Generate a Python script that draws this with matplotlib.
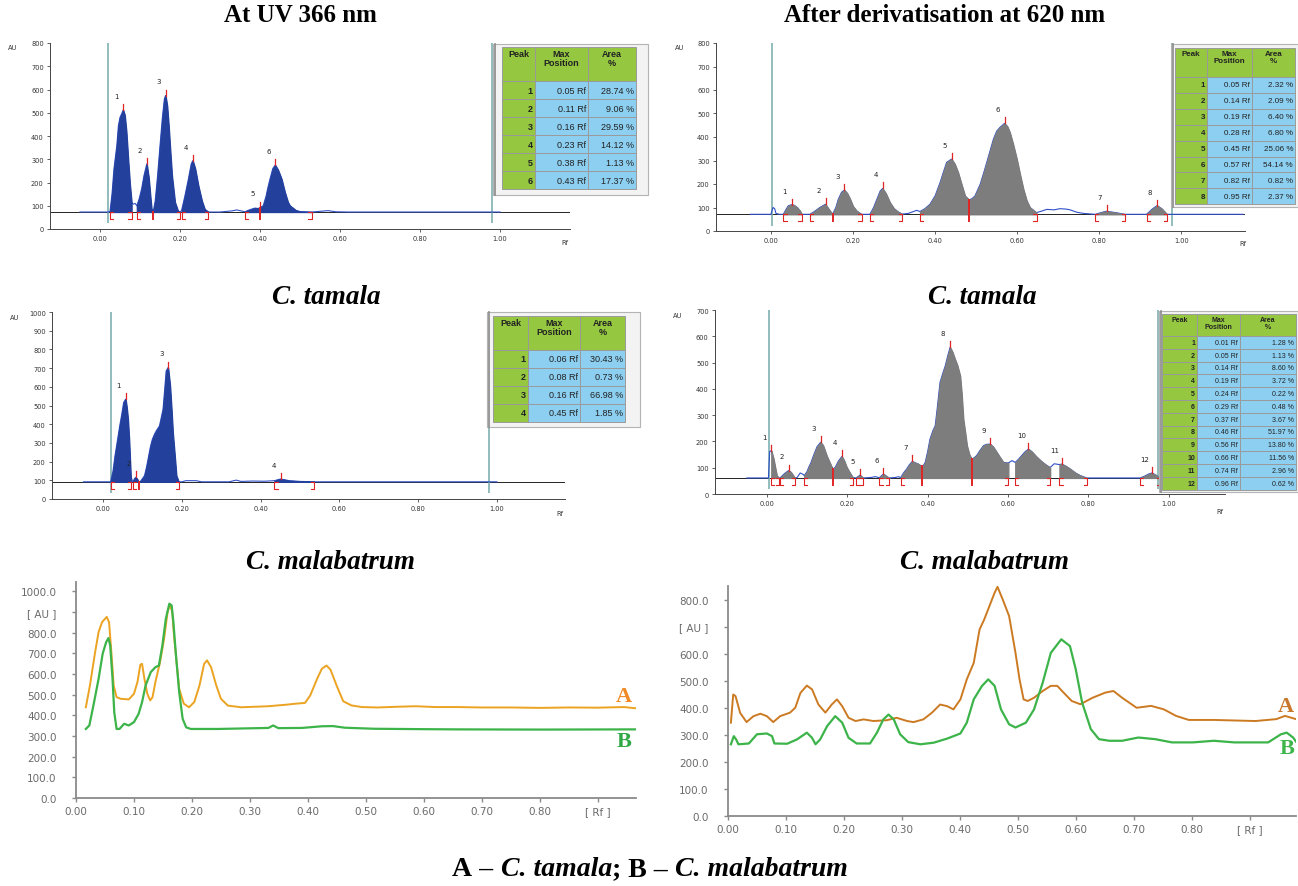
import numpy as np
import matplotlib.pyplot as plt
from matplotlib.patches import Rectangle

W, H = 1298, 887

# ---------------- data ----------------
# top-left: standard, UV 366 nm
std_uv_rf = [-0.05, 0.0, 0.02, 0.025, 0.03, 0.035, 0.042, 0.046, 0.05, 0.054, 0.058, 0.062, 0.066,
             0.071, 0.075, 0.079, 0.083, 0.088, 0.092, 0.098, 0.104, 0.11, 0.117, 0.122, 0.126, 0.129,
             0.133, 0.138, 0.144, 0.15, 0.156, 0.161, 0.164, 0.168, 0.172, 0.175, 0.18, 0.1875, 0.195,
             0.2, 0.204, 0.212, 0.221, 0.228, 0.232, 0.238, 0.246, 0.255, 0.262, 0.271, 0.3, 0.33,
             0.342, 0.3625, 0.37, 0.38, 0.3875, 0.395, 0.4, 0.408, 0.415, 0.42, 0.425, 0.432, 0.438,
             0.445, 0.454, 0.462, 0.47, 0.475, 0.49, 0.5, 0.529, 0.55, 0.57, 0.59, 0.62, 0.98, 1.0]
std_uv_au = [73, 73, 73, 75, 150, 260, 358, 444, 480, 495, 512, 490, 420,
             287, 190, 115, 107, 110, 100, 130, 172, 230, 280, 220, 140, 86,
             75, 120, 230, 358, 480, 560, 574, 530, 440, 358, 230, 115, 78,
             73, 80, 140, 215, 280, 294, 260, 186, 120, 85, 73, 73, 78,
             82, 74, 80, 86, 90, 88, 92, 100, 140, 180, 215, 260, 275,
             255, 215, 160, 115, 100, 80, 75, 73, 76, 79, 74, 73, 73, 73]
std_uv_base = 73
std_uv_win = [(0.025, 0.079), (0.092, 0.133), (0.133, 0.2), (0.204, 0.271), (0.3625, 0.4), (0.4, 0.529)]
std_uv_pos = ['0.05 Rf', '0.11 Rf', '0.16 Rf', '0.23 Rf', '0.38 Rf', '0.43 Rf']
std_uv_area = ['28.74 %', '9.06 %', '29.59 %', '14.12 %', '1.13 %', '17.37 %']

# top-right: standard after derivatisation, 620 nm
std_vis_rf = [-0.05, 0.0, 0.002, 0.005, 0.009, 0.012, 0.02, 0.03, 0.036, 0.042, 0.05, 0.056, 0.064,
              0.071, 0.075, 0.085, 0.095, 0.105, 0.119, 0.133, 0.14, 0.15, 0.158, 0.164, 0.172,
              0.179, 0.186, 0.193, 0.2, 0.209, 0.221, 0.241, 0.25, 0.258, 0.266, 0.272, 0.28, 0.29,
              0.3, 0.31, 0.32, 0.335, 0.355, 0.363, 0.375, 0.3875, 0.4, 0.412, 0.42, 0.428, 0.44,
              0.448, 0.456, 0.465, 0.473, 0.483, 0.49, 0.497, 0.51, 0.521, 0.532, 0.542, 0.55,
              0.558, 0.569, 0.576, 0.582, 0.59, 0.599, 0.607, 0.615, 0.623, 0.631, 0.647, 0.66,
              0.672, 0.69, 0.704, 0.72, 0.729, 0.745, 0.761, 0.79, 0.81, 0.818, 0.84, 0.863, 0.9,
              0.915, 0.93, 0.941, 0.952, 0.965, 1.0, 1.15]
std_vis_au = [71, 71, 85, 100, 95, 75, 71, 71, 90, 107, 112, 110, 100,
              85, 71, 71, 71, 82, 100, 114, 95, 71, 100, 135, 165,
              174, 160, 135, 105, 85, 71, 71, 100, 135, 170, 181, 160, 121,
              95, 81, 72, 75, 88, 83, 95, 114, 150, 206, 250, 292, 306,
              285, 249, 195, 149, 132, 138, 149, 200, 263, 330, 391, 425,
              441, 458, 445, 420, 370, 306, 240, 178, 130, 100, 78, 85,
              92, 90, 95, 93, 90, 80, 75, 71, 81, 84, 78, 71, 71,
              71, 95, 108, 95, 71, 71, 71]
std_vis_base = 71
std_vis_win = [(0.03, 0.075), (0.095, 0.15), (0.15, 0.221), (0.241, 0.32), (0.363, 0.483),
               (0.483, 0.647), (0.79, 0.863), (0.915, 0.965)]
std_vis_pos = ['0.05 Rf', '0.14 Rf', '0.19 Rf', '0.28 Rf', '0.45 Rf', '0.57 Rf', '0.82 Rf', '0.95 Rf']
std_vis_area = ['2.32 %', '2.09 %', '6.40 %', '6.80 %', '25.06 %', '54.14 %', '0.82 %', '2.37 %']

# middle-left: C. tamala, UV 366 nm
tam_uv_scan_rf = [-0.05, 0.0, 0.019, 0.025, 0.03, 0.036, 0.042, 0.047, 0.052, 0.057, 0.06, 0.063, 0.066,
                  0.07, 0.075, 0.08, 0.083, 0.087, 0.09, 0.095, 0.1, 0.105, 0.11, 0.114, 0.12, 0.125,
                  0.13, 0.135, 0.143, 0.148, 0.152, 0.156, 0.16, 0.165, 0.17, 0.174, 0.177, 0.182,
                  0.186, 0.192, 0.2, 0.21, 0.236, 0.25, 0.32, 0.338, 0.35, 0.38, 0.41, 0.435, 0.445,
                  0.451, 0.46, 0.473, 0.5, 0.536, 1.0]
tam_uv_scan_au = [92, 92, 92, 150, 231, 310, 391, 450, 516, 534, 490, 427, 320,
                  125, 92, 110, 116, 105, 92, 95, 110, 125, 170, 213, 280, 320,
                  345, 365, 391, 440, 480, 580, 685, 703, 605, 470, 356, 230,
                  125, 92, 92, 98, 98, 92, 92, 101, 94, 96, 95, 98, 104,
                  107, 103, 98, 94, 92, 92]
tam_uv_base = 92
tam_uv_win = [(0.019, 0.07), (0.075, 0.09), (0.09, 0.192), (0.435, 0.536)]
tam_uv_pos = ['0.06 Rf', '0.08 Rf', '0.16 Rf', '0.45 Rf']
tam_uv_area = ['30.43 %', '0.73 %', '66.98 %', '1.85 %']

# middle-right: C. tamala, 620 nm
tam_vis_scan_rf = [-0.05, 0.0, 0.004, 0.007, 0.011, 0.014, 0.017, 0.021, 0.025, 0.03, 0.033, 0.04, 0.046,
                   0.054, 0.06, 0.066, 0.07, 0.075, 0.083, 0.09, 0.093, 0.1, 0.104, 0.11, 0.116, 0.125,
                   0.134, 0.14, 0.149, 0.157, 0.164, 0.17, 0.178, 0.187, 0.193, 0.199, 0.207, 0.214,
                   0.222, 0.232, 0.24, 0.26, 0.27, 0.28, 0.29, 0.3, 0.305, 0.32, 0.328, 0.333, 0.34,
                   0.348, 0.355, 0.362, 0.37, 0.377, 0.386, 0.39, 0.394, 0.4, 0.406, 0.413, 0.419,
                   0.425, 0.431, 0.438, 0.444, 0.45, 0.456, 0.462, 0.468, 0.474, 0.481, 0.485, 0.489,
                   0.494, 0.498, 0.504, 0.51, 0.516, 0.522, 0.53, 0.539, 0.547, 0.556, 0.564, 0.572,
                   0.58, 0.589, 0.601, 0.61, 0.618, 0.626, 0.634, 0.642, 0.651, 0.66, 0.672, 0.685,
                   0.697, 0.705, 0.715, 0.728, 0.734, 0.745, 0.755, 0.768, 0.78, 0.796, 0.929, 0.94,
                   0.95, 0.958, 0.968, 0.978, 1.0]
tam_vis_scan_au = [61, 61, 61, 161, 165, 150, 133, 100, 70, 61, 61, 72, 80,
                   89, 83, 70, 61, 62, 80, 75, 70, 85, 101, 120, 146, 180,
                   197, 185, 146, 118, 95, 101, 125, 143, 125, 101, 80, 63,
                   61, 72, 61, 63, 66, 62, 76, 65, 61, 63, 66, 62, 80,
                   95, 112, 124, 118, 114, 105, 110, 120, 160, 209, 240, 260,
                   340, 425, 460, 488, 525, 558, 540, 514, 490, 450, 380, 285,
                   230, 184, 150, 133, 138, 146, 165, 184, 189, 190, 178, 159,
                   140, 120, 118, 127, 120, 132, 146, 160, 171, 160, 140, 122,
                   108, 101, 115, 112, 114, 105, 95, 80, 70, 61, 61, 68,
                   76, 80, 72, 61, 61]
tam_vis_base = 61
tam_vis_win = [(0.011, 0.03), (0.033, 0.07), (0.093, 0.164), (0.164, 0.214), (0.222, 0.24),
               (0.28, 0.305), (0.333, 0.386), (0.386, 0.51), (0.51, 0.601), (0.618, 0.705),
               (0.728, 0.796), (0.929, 0.978)]
tam_vis_pos = ['0.01 Rf', '0.05 Rf', '0.14 Rf', '0.19 Rf', '0.24 Rf', '0.29 Rf',
               '0.37 Rf', '0.46 Rf', '0.56 Rf', '0.66 Rf', '0.74 Rf', '0.96 Rf']
tam_vis_area = ['1.28 %', '1.13 %', '8.60 %', '3.72 %', '0.22 %', '0.48 %',
                '3.67 %', '51.97 %', '13.80 %', '11.56 %', '2.96 %', '0.62 %']

# bottom-left: overlay at UV 366 nm (A = C. tamala, B = C. malabatrum)
ov_uv_a_rf = [0.017, 0.024, 0.033, 0.039, 0.045, 0.053, 0.057, 0.061, 0.065, 0.07, 0.077, 0.091, 0.1,
              0.106, 0.111, 0.114, 0.118, 0.123, 0.128, 0.132, 0.137, 0.145, 0.152, 0.158, 0.162,
              0.166, 0.169, 0.174, 0.178, 0.186, 0.195, 0.204, 0.213, 0.221, 0.226, 0.233, 0.242,
              0.25, 0.262, 0.285, 0.332, 0.361, 0.378, 0.395, 0.404, 0.416, 0.424, 0.432, 0.439,
              0.45, 0.461, 0.475, 0.493, 0.52, 0.56, 0.586, 0.62, 0.658, 0.7, 0.75, 0.801, 0.85,
              0.9, 0.945, 0.966]
ov_uv_a_au = [439, 544, 706, 803, 851, 876, 851, 706, 544, 488, 480, 477, 504,
              561, 645, 649, 577, 504, 472, 488, 561, 658, 771, 900, 935,
              900, 787, 641, 528, 456, 439, 464, 544, 649, 666, 633, 544,
              480, 447, 439, 444, 451, 456, 460, 496, 577, 625, 641, 621,
              541, 468, 448, 440, 438, 442, 444, 440, 440, 438, 438, 436, 438,
              437, 440, 434]
ov_uv_b_rf = [0.017, 0.023, 0.03, 0.039, 0.046, 0.052, 0.056, 0.059, 0.063, 0.066, 0.07, 0.075, 0.083,
              0.091, 0.1, 0.108, 0.114, 0.12, 0.129, 0.137, 0.143, 0.149, 0.155, 0.161, 0.165,
              0.168, 0.172, 0.178, 0.184, 0.19, 0.198, 0.245, 0.332, 0.34, 0.349, 0.39, 0.424,
              0.443, 0.464, 0.514, 0.6, 0.658, 0.8, 0.966]
ov_uv_b_au = [334, 351, 447, 577, 698, 754, 774, 738, 577, 415, 334, 334, 359,
              351, 367, 407, 464, 544, 609, 633, 641, 738, 868, 940, 932,
              851, 706, 512, 383, 342, 334, 334, 339, 351, 338, 339, 347,
              348, 340, 335, 333, 332, 331, 332]

# bottom-right: overlay after derivatisation (A = C. tamala, B = C. malabatrum)
ov_vis_a_rf = [0.005, 0.009, 0.013, 0.021, 0.032, 0.044, 0.056, 0.067, 0.078, 0.09, 0.107, 0.116, 0.125,
               0.136, 0.145, 0.156, 0.168, 0.179, 0.188, 0.197, 0.208, 0.22, 0.234, 0.251, 0.274,
               0.291, 0.309, 0.32, 0.337, 0.352, 0.366, 0.378, 0.389, 0.401, 0.412, 0.424, 0.434,
               0.442, 0.46, 0.465, 0.474, 0.485, 0.496, 0.503, 0.51, 0.517, 0.528, 0.543, 0.557,
               0.568, 0.579, 0.593, 0.608, 0.629, 0.651, 0.665, 0.68, 0.705, 0.73, 0.752, 0.773,
               0.795, 0.838, 0.91, 0.946, 0.961, 0.98]
ov_vis_a_au = [345, 449, 443, 381, 347, 369, 378, 369, 347, 369, 382, 400, 455,
               482, 468, 412, 382, 412, 431, 406, 363, 351, 357, 351, 354,
               363, 351, 347, 357, 382, 412, 406, 394, 431, 505, 566, 689,
               726, 825, 847, 800, 739, 603, 505, 431, 425, 437, 462, 481,
               481, 456, 425, 413, 437, 456, 462, 437, 400, 407, 394, 370,
               355, 355, 351, 358, 370, 358]
ov_vis_b_rf = [0.005, 0.01, 0.014, 0.018, 0.036, 0.05, 0.067, 0.076, 0.08, 0.102, 0.119, 0.136, 0.145,
               0.151, 0.159, 0.171, 0.185, 0.197, 0.208, 0.222, 0.245, 0.257, 0.268, 0.277, 0.286,
               0.297, 0.311, 0.332, 0.355, 0.378, 0.401, 0.412, 0.424, 0.438, 0.449, 0.46, 0.471,
               0.485, 0.496, 0.514, 0.528, 0.543, 0.557, 0.575, 0.59, 0.6, 0.611, 0.626, 0.64,
               0.658, 0.68, 0.708, 0.737, 0.766, 0.802, 0.838, 0.874, 0.932, 0.954, 0.964, 0.975,
               0.98]
ov_vis_b_au = [265, 295, 283, 265, 268, 302, 305, 295, 268, 267, 283, 308, 289,
               265, 283, 332, 369, 345, 289, 268, 268, 308, 357, 375, 357,
               302, 273, 265, 271, 286, 305, 345, 431, 480, 505, 481, 394,
               339, 327, 345, 394, 493, 603, 653, 628, 542, 419, 321, 284,
               278, 278, 290, 284, 272, 272, 278, 272, 272, 302, 308, 290,
               275]

# ---------------- styling ----------------
BLUE_FILL = '#22409c'
BLUE_LINE = '#3050c8'
GRAY_FILL = '#7d7d7d'
RED = '#e02424'
TEAL = '#7fb0b0'
T_GREEN = '#95c840'
T_BLUE = '#8ccff0'
ORANGE_L = '#eba321'
ORANGE_R = '#cc7a22'
GREEN = '#3cb44a'
SERIF = 'Liberation Serif'

fig = plt.figure(figsize=(W / 100, H / 100), dpi=100)


def px_axes(l, t, r, b):
    return fig.add_axes([l / W, 1 - b / H, (r - l) / W, (b - t) / H])


def draw_scan(ax, rf, au, base, wins, fill, ymax, ystep, teal_x, px_h):
    rf = np.asarray(rf, float)
    au = np.asarray(au, float)
    ax.set_ylim(0, ymax)
    d = 7 * ymax / px_h
    w = 0.008
    ax.axhline(base, color='black', lw=0.6, zorder=1)
    for x in teal_x:
        ax.vlines(x, base - 1.6 * d, ymax, color=TEAL, lw=1.2, zorder=1.5)
    ax.plot(rf, au, color=BLUE_LINE, lw=0.8, zorder=2)
    prev_end = None
    for k, (s, e) in enumerate(wins):
        sel = (rf >= s - 1e-9) & (rf <= e + 1e-9)
        ax.fill_between(rf[sel], base, au[sel], facecolor=fill, edgecolor=fill, lw=0.9, zorder=3)
        i = np.argmax(au[sel])
        xp, yp = rf[sel][i], au[sel][i]
        ax.plot([xp, xp], [yp, yp + 6 * ymax / px_h], color=RED, lw=0.9, zorder=4)
        ax.annotate(str(k + 1), (xp, yp), xytext=(-5, 8), textcoords='offset points',
                    fontsize=5, ha='center', va='bottom', color='#222222')
        if prev_end is not None and abs(prev_end - s) < 1e-9:
            ax.plot([s, s], [au[sel][0], base - d], color=RED, lw=1.4, zorder=4)
        else:
            ax.plot([s + w, s, s, s + w], [base, base, base - d, base - d], color=RED, lw=0.8, zorder=4)
        nxt = wins[k + 1][0] if k + 1 < len(wins) else None
        if nxt is None or abs(nxt - e) > 1e-9:
            ax.plot([e - w, e, e, e - w], [base, base, base - d, base - d], color=RED, lw=0.8, zorder=4)
        prev_end = e
    for s in ['top', 'right']:
        ax.spines[s].set_visible(False)
    for s in ['left', 'bottom']:
        ax.spines[s].set_linewidth(0.7)
        ax.spines[s].set_color('#444444')
    ax.set_yticks(np.arange(0, ymax + 1, ystep))
    xt = [0.0, 0.2, 0.4, 0.6, 0.8, 1.0]
    ax.set_xticks(xt)
    ax.set_xticklabels([f'{v:.2f}' for v in xt])
    ax.tick_params(length=2.5, width=0.6, labelsize=4.8, pad=2, labelcolor='#333333', color='#444444')


# top-left
ax1 = px_axes(50, 44, 570, 230)
ax1.set_xlim(-0.125, 1.175)
draw_scan(ax1, std_uv_rf, std_uv_au, std_uv_base, std_uv_win, BLUE_FILL, 800, 100, [0.02, 0.98], 186)

# top-right
ax2 = px_axes(716, 44, 1245, 232)
ax2.set_xlim(-0.134, 1.155)
draw_scan(ax2, std_vis_rf, std_vis_au, std_vis_base, std_vis_win, GRAY_FILL, 800, 100, [0.002, 0.977], 188)

# middle-left
ax3 = px_axes(52, 313, 565, 500)
ax3.set_xlim(-0.13, 1.173)
draw_scan(ax3, tam_uv_scan_rf, tam_uv_scan_au, tam_uv_base, tam_uv_win, BLUE_FILL, 1000, 100, [0.02, 0.98], 187)

# middle-right
ax4 = px_axes(715, 311, 1225, 495)
ax4.set_xlim(-0.129, 1.14)
draw_scan(ax4, tam_vis_scan_rf, tam_vis_scan_au, tam_vis_base, tam_vis_win, GRAY_FILL, 700, 100, [0.005, 0.973], 184)


def style_bottom(ax, ymax, au_tick):
    ax.set_ylim(0, ymax)
    for s in ['top', 'right']:
        ax.spines[s].set_visible(False)
    for s in ['left', 'bottom']:
        ax.spines[s].set_color('#8a8a8a')
        ax.spines[s].set_linewidth(1.3)
    yt = np.arange(0, ymax - 40, 100)
    ax.set_yticks(yt)
    ax.set_yticklabels(['[ AU ]' if v == au_tick else f'{v:.1f}' for v in yt])
    xt = np.round(np.arange(0, 0.91, 0.1), 2)
    ax.set_xticks(xt)
    ax.set_xticklabels(['[ Rf ]' if abs(v - 0.9) < 1e-6 else f'{v:.2f}' for v in xt])
    ax.tick_params(length=3, width=1, color='#8a8a8a', labelsize=7.5, labelcolor='#6a6a6a')
    ax.tick_params(axis='y', pad=11)
    ax.tick_params(axis='x', pad=3)


ax5 = px_axes(76, 583, 636, 799)
ax5.set_xlim(0, 0.966)
ax5.plot(ov_uv_a_rf, ov_uv_a_au, color=ORANGE_L, lw=1.4)
ax5.plot(ov_uv_b_rf, ov_uv_b_au, color=GREEN, lw=1.6)
style_bottom(ax5, 1045, 900)
ax5.text(0.945, 495, 'A', color='#f08a24', fontsize=16, fontweight='bold', family=SERIF, ha='center', va='center')
ax5.text(0.945, 277, 'B', color='#2fa845', fontsize=16, fontweight='bold', family=SERIF, ha='center', va='center')

ax6 = px_axes(728, 587, 1296, 817)
ax6.set_xlim(0, 0.98)
ax6.plot(ov_vis_a_rf, ov_vis_a_au, color=ORANGE_R, lw=1.4)
ax6.plot(ov_vis_b_rf, ov_vis_b_au, color=GREEN, lw=1.6)
style_bottom(ax6, 850, 700)
ax6.text(0.962, 407, 'A', color='#c9772b', fontsize=16, fontweight='bold', family=SERIF, ha='center', va='center')
ax6.text(0.964, 253, 'B', color='#3db54a', fontsize=16, fontweight='bold', family=SERIF, ha='center', va='center')

# overlay in pixel units for tables and text
ov = fig.add_axes([0, 0, 1, 1])
ov.set_xlim(0, W)
ov.set_ylim(H, 0)
ov.axis('off')
ov.patch.set_alpha(0)


def draw_table(frame, cols, top, head_h, row_h, pos, area, fs):
    x0, y0, x1, y1 = frame
    ov.add_patch(Rectangle((x0, y0), x1 - x0, y1 - y0, fc='#f3f3f3', ec='#b4b4b4', lw=0.8))
    ov.plot([x0 + 2, x0 + 2], [y0, y1], color='#8a8a8a', lw=1.2)
    for j in range(3):
        ov.add_patch(Rectangle((cols[j], top), cols[j + 1] - cols[j], head_h, fc=T_GREEN, ec='#9a9a9a', lw=0.7))
    heads = ['Peak', 'Max\nPosition', 'Area\n%']
    for j, h in enumerate(heads):
        ov.text((cols[j] + cols[j + 1]) / 2, top + 2, h, ha='center', va='top', fontsize=fs,
                fontweight='bold', color='#222222', family='Liberation Sans', linespacing=1.0)
    for i in range(len(pos)):
        yy = top + head_h + i * row_h
        for j, fc in enumerate([T_GREEN, T_BLUE, T_BLUE]):
            ov.add_patch(Rectangle((cols[j], yy), cols[j + 1] - cols[j], row_h, fc=fc, ec='#9a9a9a', lw=0.7))
        vals = [str(i + 1), pos[i], area[i]]
        for j, v in enumerate(vals):
            ov.text(cols[j + 1] - 2, yy + row_h / 2, v, ha='right', va='center', fontsize=fs,
                    fontweight='bold' if j == 0 else 'normal', color='#222222', family='Liberation Sans')


draw_table((493, 45, 648, 196), [502, 535, 588, 636], 48, 34, 18, std_uv_pos, std_uv_area, 6.5)
draw_table((1171, 45, 1298, 208), [1175, 1207, 1252, 1295], 49, 29, 15.9, std_vis_pos, std_vis_area, 5.8)
draw_table((487, 313, 640, 428), [493, 528, 580, 625], 317, 34, 18, tam_uv_pos, tam_uv_area, 6.5)
draw_table((1159, 312, 1298, 493), [1162, 1197, 1240, 1296], 315, 22, 12.8, tam_vis_pos, tam_vis_area, 5)

# AU / Rf labels of the scanner plots
for x, y in [(13, 48), (680, 48), (15, 318), (678, 316)]:
    ov.text(x, y, 'AU', fontsize=4.8, color='#333333', ha='center', va='center')
for x, y in [(565, 243), (1243, 244), (560, 514), (1220, 512)]:
    ov.text(x, y, 'Rf', fontsize=4.8, color='#333333', ha='center', va='center')

# titles
title_kw = dict(fontweight='bold', family=SERIF, ha='center', va='center')
ov.text(300, 15, 'At UV 366 nm', fontsize=18, **title_kw)
ov.text(945, 15, 'After derivatisation at 620 nm', fontsize=18, **title_kw)
ov.text(326, 298, 'C. tamala', style='italic', fontsize=19.5, **title_kw)
ov.text(982, 298, 'C. tamala', style='italic', fontsize=19.5, **title_kw)
ov.text(330, 563, 'C. malabatrum', style='italic', fontsize=19.5, **title_kw)
ov.text(984, 563, 'C. malabatrum', style='italic', fontsize=19.5, **title_kw)

# caption with mixed upright / italic parts
pieces = [('A \u2013 ', 'normal'), ('C. tamala', 'italic'), ('; B \u2013 ', 'normal'), ('C. malabatrum', 'italic')]
renderer = fig.canvas.get_renderer()
cap = []
for s, st in pieces:
    t = ov.text(0, 870, s.replace(' ', '\u00a0'), style=st, fontsize=20, fontweight='bold', family=SERIF,
                ha='left', va='center')
    cap.append(t)
widths = [t.get_window_extent(renderer).width for t in cap]
x = 650 - sum(widths) / 2
for t, wd in zip(cap, widths):
    t.set_x(x)
    x += wd

fig.savefig('out.png', dpi=100)
